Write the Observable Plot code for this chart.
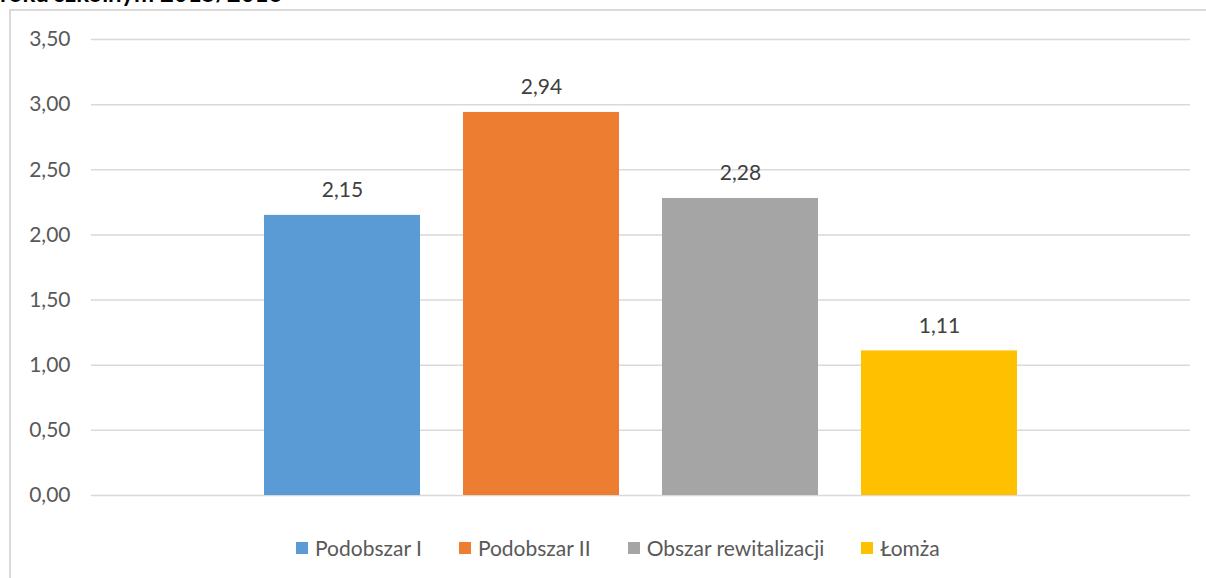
<!DOCTYPE html>
<html>
<head>
<meta charset="utf-8">
<script src="https://cdn.jsdelivr.net/npm/d3@7"></script>
<script src="https://cdn.jsdelivr.net/npm/@observablehq/plot@0.6"></script>
<style>
  html, body { margin: 0; padding: 0; background: #fff; }
  body { width: 1206px; height: 578px; position: relative; overflow: hidden; font-family: Lato, "Open Sans", sans-serif; }
  #title { position: absolute; left: 0; top: -19px; font-weight: bold; font-size: 24px; color: #000; white-space: nowrap; line-height: 1; }
  #frame { position: absolute; left: 9px; top: 9px; width: 1300px; height: 600px; border-left: 2px solid #d9d9d9; border-top: 2px solid #d9d9d9; box-sizing: border-box; }
  #chart { position: absolute; left: 0; top: 0; }
  #legend { position: absolute; left: 296px; top: 531px; }
  #legend .plot-swatches, #legend div { font-family: Lato, sans-serif; font-size: 21px; color: #595959; }
</style>
</head>
<body>
<div id="title">roku szkolnym 2015/2016</div>
<div id="frame"></div>
<div id="chart"></div>
<div id="legend"></div>
<script>
const categories = ["Podobszar I", "Podobszar II", "Obszar rewitalizacji", "Łomża"];
const values = [2.15, 2.94, 2.28, 1.11];
const colors = ["#5B9BD5", "#ED7D31", "#A5A5A5", "#FFC000"];
const yTicks = [0, 0.5, 1, 1.5, 2, 2.5, 3, 3.5];

const data = categories.map((c, i) => ({name: c, value: values[i]}));
const fmt = d => d.toFixed(2).replace(".", ",");

const plot = Plot.plot({
  width: 1206,
  height: 520,
  marginTop: 39,
  marginBottom: 25,
  marginLeft: 91,
  marginRight: 16,
  style: {fontFamily: "Lato, sans-serif", fontSize: "21px", background: "transparent", overflow: "visible"},
  x: {domain: categories, paddingInner: 0.214, paddingOuter: 0.86, axis: null},
  y: {domain: [0, 3.5], ticks: yTicks, tickFormat: fmt, tickSize: 0, tickPadding: 21, label: null},
  color: {domain: categories, range: colors},
  marks: [
    Plot.ruleY(yTicks, {stroke: "#d9d9d9", strokeWidth: 1.5}),
    Plot.barY(data, {x: "name", y: "value", fill: "name"}),
    Plot.text(data, {x: "name", y: "value", text: d => fmt(d.value), dy: -25, fill: "#404040", fontSize: 21}),
    Plot.axisY({ticks: yTicks, tickFormat: fmt, tickSize: 0, tickPadding: 21, color: "#595959", fontSize: 21, label: null})
  ]
});
document.getElementById("chart").appendChild(plot);

const legend = Plot.legend({
  color: {domain: categories, range: colors},
  swatchSize: 12,
  swatchWidth: 12,
  swatchHeight: 12,
  style: {fontFamily: "Lato, sans-serif", fontSize: "21px", color: "#595959"}
});
document.getElementById("legend").appendChild(legend);
</script>
<style>
  #legend .plot-swatches > span, #legend span { margin-right: 37px !important; }
  #legend svg { margin-right: 7px !important; }
</style>
</body>
</html>
